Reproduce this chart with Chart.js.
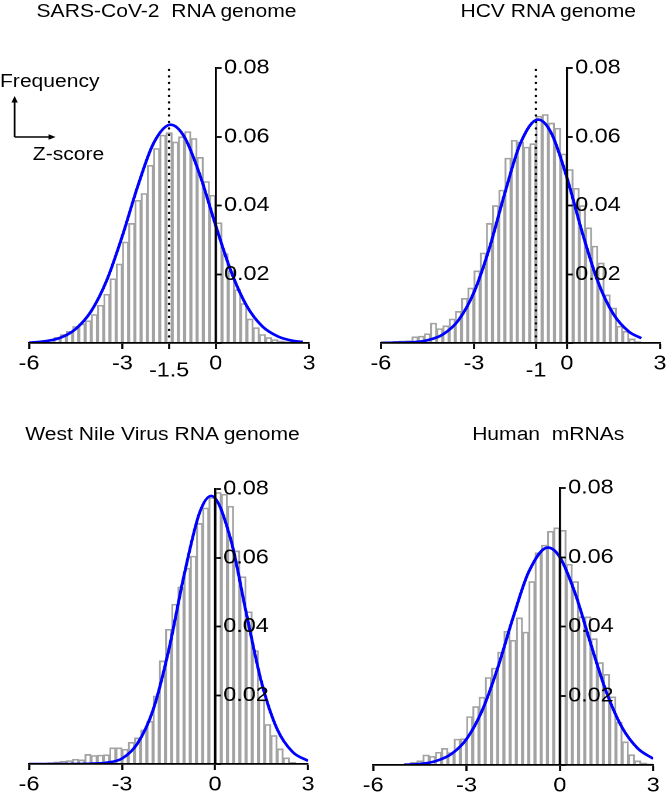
<!DOCTYPE html>
<html>
<head>
<meta charset="utf-8">
<script src="https://cdn.jsdelivr.net/npm/chart.js@4.4.1/dist/chart.umd.min.js"></script>
<style>
    body { margin: 0; background: #fff; }
    #wrap {
        position: absolute; left: 0; top: 0; width: 569px; height: 796px;
        transform: scaleX(1.1705); transform-origin: 0 0;
        font-family: "Liberation Sans", Arial, sans-serif; color: #000;
    }
    .title { position: absolute; font-size: 18px; line-height: 18px; white-space: pre; transform: translateX(-50%); }
    .note { position: absolute; font-size: 18px; line-height: 18px; white-space: pre; }
    canvas { position: absolute; }
</style>
</head>
<body>
<div id="wrap">
    <div class="title" style="left:142.3px; top:2px;">SARS-CoV-2  RNA genome</div>
    <div class="title" style="left:468.4px; top:2px;">HCV RNA genome</div>
    <div class="title" style="left:138.9px; top:425px;">West Nile Virus RNA genome</div>
    <div class="title" style="left:468.4px; top:425px;">Human  mRNAs</div>

    <div class="note" style="left:0px; top:72px;">Frequency</div>
    <div class="note" style="left:28px; top:145px;">Z-score</div>
    <svg style="position:absolute; left:0; top:0;" width="60" height="150">
        <line x1="12.5" y1="100" x2="12.5" y2="137" stroke="#000" stroke-width="1.5"/>
        <line x1="12.5" y1="137" x2="44" y2="137" stroke="#000" stroke-width="1.5"/>
        <polygon points="12.5,96 9.8,102.5 15.2,102.5" fill="#000"/>
        <polygon points="47.5,137 41.5,134.3 41.5,139.7" fill="#000"/>
    </svg>

    <canvas id="sars"></canvas>
    <canvas id="hcv"></canvas>
    <canvas id="wnv"></canvas>
    <canvas id="human"></canvas>
</div>

<script>
// histogram bins (z-score, bin width 0.2)
const binCenters = [-5.9, -5.7, -5.5, -5.3, -5.1, -4.9, -4.7, -4.5, -4.3, -4.1,
    -3.9, -3.7, -3.5, -3.3, -3.1, -2.9, -2.7, -2.5, -2.3, -2.1,
    -1.9, -1.7, -1.5, -1.3, -1.1, -0.9, -0.7, -0.5, -0.3, -0.1,
    0.1, 0.3, 0.5, 0.7, 0.9, 1.1, 1.3, 1.5, 1.7, 1.9,
    2.1, 2.3, 2.5, 2.7, 2.9];

const sarsBars = [0.0001, 0.0002, 0.0005, 0.0010, 0.0017, 0.0025, 0.0034, 0.0048, 0.0056, 0.0065,
    0.0083, 0.0110, 0.0142, 0.0187, 0.0230, 0.0294, 0.0348, 0.0415, 0.0435, 0.0517,
    0.0566, 0.0605, 0.0612, 0.0585, 0.0600, 0.0615, 0.0595, 0.0540, 0.0470, 0.0430,
    0.0350, 0.0260, 0.0210, 0.0155, 0.0115, 0.0070, 0.0045, 0.0025, 0.0016, 0.0010,
    0.0006, 0.0004, 0.0002, 0.0001, 0];
const hcvBars = [0.0004, 0.0004, 0.0005, 0.0006, 0.0007, 0.0018, 0.0020, 0.0027, 0.0058, 0.0042,
    0.0050, 0.0070, 0.0092, 0.0130, 0.0160, 0.0210, 0.0262, 0.0348, 0.0400, 0.0445,
    0.0538, 0.0590, 0.0585, 0.0570, 0.0580, 0.0660, 0.0665, 0.0640, 0.0625, 0.0550,
    0.0505, 0.0450, 0.0400, 0.0335, 0.0282, 0.0233, 0.0140, 0.0102, 0.0049, 0.0034,
    0.0012, 0.0004, 0.0001, 0, 0];
const wnvBars = [0, 0, 0.0002, 0.0004, 0.0006, 0.0008, 0.0010, 0.0014, 0.0012, 0.0028,
    0.0025, 0.0026, 0.0027, 0.0047, 0.0047, 0.0043, 0.0063, 0.0076, 0.0099, 0.0125,
    0.0198, 0.0300, 0.0392, 0.0465, 0.0515, 0.0570, 0.0605, 0.0700, 0.0745, 0.0775,
    0.0790, 0.0785, 0.0750, 0.0620, 0.0545, 0.0443, 0.0330, 0.0186, 0.0115, 0.0083,
    0.0044, 0.0018, 0.0005, 0.0002, 0];
const humanBars = [0, 0, 0, 0.0001, 0.0002, 0.0004, 0.0008, 0.0012, 0.0029, 0.0025,
    0.0037, 0.0048, 0.0036, 0.0075, 0.0076, 0.0140, 0.0169, 0.0196, 0.0253, 0.0280,
    0.0326, 0.0386, 0.0360, 0.0425, 0.0384, 0.0530, 0.0613, 0.0635, 0.0675, 0.0685,
    0.0678, 0.0580, 0.0530, 0.0428, 0.0428, 0.0365, 0.0296, 0.0262, 0.0197, 0.0124,
    0.0067, 0.0030, 0.0012, 0.0006, 0.0003];

// fitted curves
const sarsFitX = [-6, -5.5, -5, -4.5, -4, -3.5, -3, -2.5, -2, -1.45, -1, -0.5, 0, 0.5, 1, 1.5, 2, 2.5, 2.8];
const sarsFitY = [0.0001, 0.0005, 0.0015, 0.0041, 0.0093, 0.0183, 0.0312, 0.0458, 0.0581, 0.0635, 0.0598, 0.0486, 0.0341, 0.0206, 0.0107, 0.0048, 0.0019, 0.0006, 0.0003];
const hcvFitX = [-6, -5.5, -5, -4.5, -4, -3.5, -3, -2.5, -2, -1.5, -0.93, -0.5, 0, 0.5, 1, 1.5, 2, 2.4];
const hcvFitY = [0, 0.0001, 0.0002, 0.0008, 0.0025, 0.0066, 0.0147, 0.0276, 0.0437, 0.0581, 0.0650, 0.0610, 0.0481, 0.0320, 0.0178, 0.0084, 0.0033, 0.0014];
const wnvFitX = [-6, -5, -4, -3.5, -3, -2.5, -2, -1.5, -1, -0.5, -0.12, 0.5, 1, 1.5, 2, 2.5, 3];
const wnvFitY = [0, 0, 0.0001, 0.0004, 0.0016, 0.0060, 0.0157, 0.0329, 0.0549, 0.0731, 0.0780, 0.0655, 0.0442, 0.0237, 0.0102, 0.0035, 0.0009];
const humanFitX = [-5, -4.5, -4, -3.5, -3, -2.5, -2, -1.5, -1, -0.385, 0, 0.5, 1, 1.5, 2, 2.5, 3];
const humanFitY = [0.0001, 0.0003, 0.0011, 0.0031, 0.0075, 0.0157, 0.0280, 0.0427, 0.0558, 0.0628, 0.0600, 0.0493, 0.0347, 0.0209, 0.0108, 0.0048, 0.0018];

// axis ticks
const xTickValues = [-6, -3, 0, 3];
const yTickStep = 0.02;
const sarsMarker = -1.5;
const hcvMarker = -1;

const FONT = "'Liberation Sans', Arial, sans-serif";

// y axis sits at z = 0, labels to its right (right edge widened so labels are not clipped)
const moveYAxis = {
    id: "moveYAxis",
    afterLayout(chart) {
        const y = chart.scales.y;
        const x0 = chart.scales.x.getPixelForValue(0);
        y.left = x0;
        y.right = chart.width;
    }
};

function makePanel(id, area, bars, fitX, fitY, marker) {
    const canvas = document.getElementById(id);
    const left = Math.floor(area.left) - 20;
    const right = Math.ceil(area.right) + 20;
    const top = area.top - 16;
    canvas.width = right - left;
    canvas.height = (area.bottom - area.top) + 16 + 40;
    canvas.style.left = left + "px";
    canvas.style.top = top + "px";

    const datasets = [{
        type: "line",
        data: fitX.map((x, i) => ({ x, y: fitY[i] })),
        borderColor: "#0000ff",
        borderWidth: 2.6,
        pointRadius: 0,
        cubicInterpolationMode: "monotone",
        order: 0
    }];

    if (marker !== null) {
        datasets.push({
            type: "line",
            data: [{ x: marker, y: 0 }, { x: marker, y: 0.08 }],
            borderColor: "#000",
            borderWidth: 2.2,
            borderDash: [0.1, 6.4],
            borderCapStyle: "round",
            pointRadius: 0,
            order: 1
        });
    }

    datasets.push({
        type: "bar",
        data: binCenters.map((x, i) => ({ x, y: bars[i] })),
        backgroundColor: "rgba(255,255,255,0)",
        borderColor: "#a3a3a3",
        borderWidth: 1.0,
        barPercentage: 1,
        categoryPercentage: 1,
        order: 2
    });

    const ticks = xTickValues.slice();
    if (marker !== null) ticks.push(marker);
    ticks.sort((a, b) => a - b);

    new Chart(canvas, {
        type: "bar",
        data: { datasets },
        options: {
            responsive: false,
            animation: false,
            devicePixelRatio: 2,
            events: [],
            layout: { padding: { left: area.left - left, right: right - area.right, top: 16, bottom: 0 } },
            plugins: { legend: { display: false }, tooltip: { enabled: false } },
            scales: {
                x: {
                    type: "linear",
                    min: -6,
                    max: 3,
                    offset: false,
                    afterBuildTicks: (s) => { s.ticks = ticks.map(v => ({ value: v })); },
                    afterFit: (s) => { s.height = 40; },
                    grid: { drawOnChartArea: false, drawTicks: true, tickLength: 6, tickWidth: 1.8, tickColor: "#000", offset: false, z: 1 },
                    border: { color: "#000", width: 1.8, z: 1 },
                    ticks: {
                        autoSkip: false,
                        maxRotation: 0,
                        padding: 3,
                        color: "#000",
                        z: 1,
                        font: (c) => (c.tick && c.tick.value === marker)
                            ? { family: FONT, size: 20, lineHeight: 0.635 }
                            : { family: FONT, size: 20 },
                        callback: (v) => v === marker ? ["", String(v)] : String(v)
                    }
                },
                y: {
                    type: "linear",
                    position: "right",
                    min: 0,
                    max: 0.08,
                    afterFit: (s) => { s.width = 0; },
                    grid: { drawOnChartArea: false, drawTicks: true, tickLength: 5, tickWidth: 1.8, tickColor: "#000", z: 1 },
                    border: { color: "#000", width: 1.8, z: 1 },
                    ticks: {
                        stepSize: yTickStep,
                        padding: 2,
                        color: "#000",
                        z: 1,
                        font: { family: FONT, size: 20 },
                        callback: (v) => v === 0 ? "" : v.toFixed(2)
                    }
                }
            }
        },
        plugins: [moveYAxis]
    });
}

makePanel("sars", { left: 24.8, right: 264.1, top: 68, bottom: 343 }, sarsBars, sarsFitX, sarsFitY, sarsMarker);
makePanel("hcv", { left: 325.4, right: 563.8, top: 68, bottom: 343 }, hcvBars, hcvFitX, hcvFitY, hcvMarker);
makePanel("wnv", { left: 24.8, right: 263.2, top: 489, bottom: 764 }, wnvBars, wnvFitX, wnvFitY, null);
makePanel("human", { left: 318.8, right: 558.1, top: 488, bottom: 765 }, humanBars, humanFitX, humanFitY, null);
</script>
</body>
</html>
